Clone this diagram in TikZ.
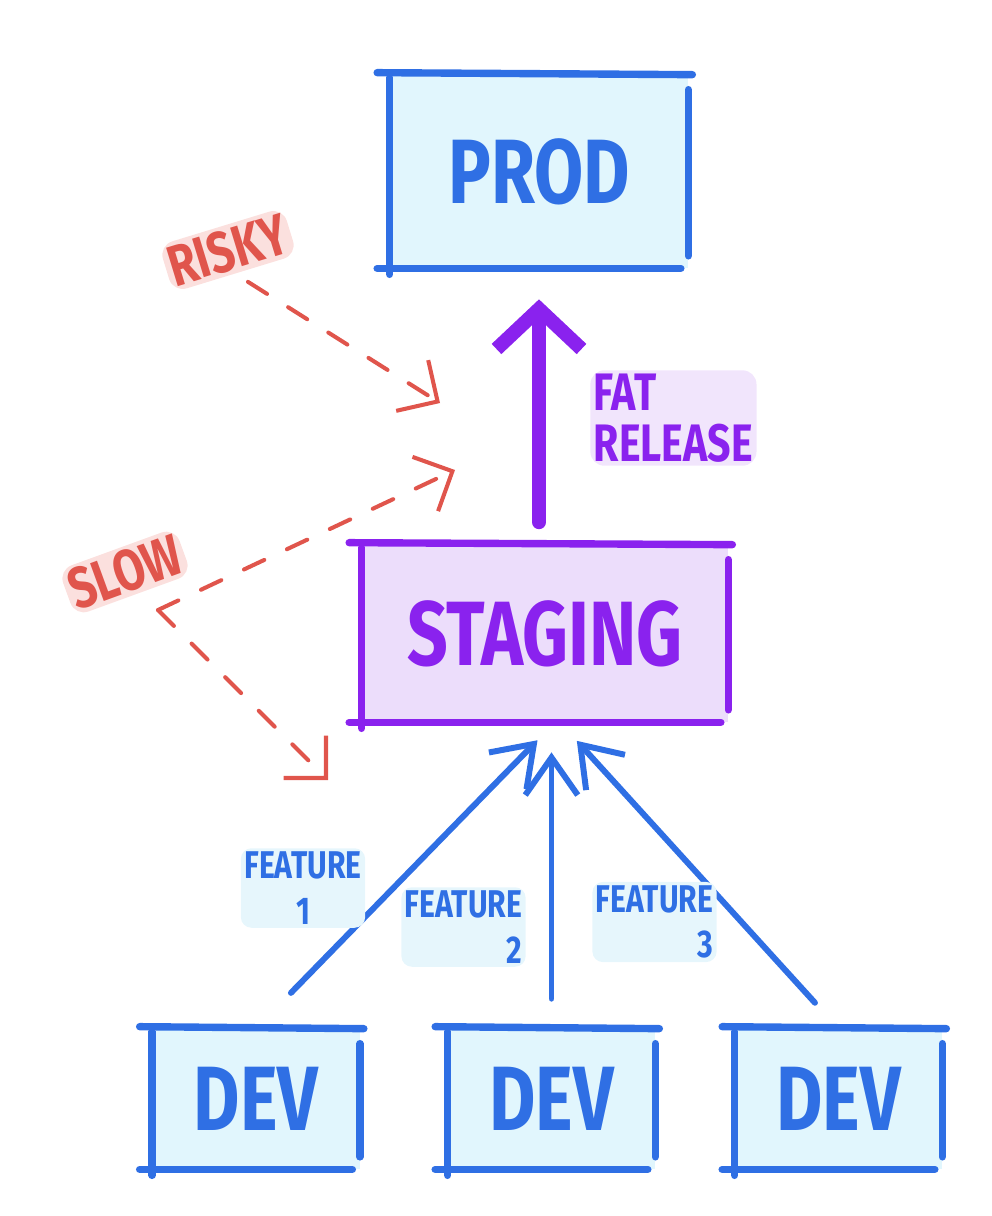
\documentclass[tikz,border=0pt]{standalone}
\usepackage{fontspec}
\usepackage{tikz}
\usetikzlibrary{arrows.meta}
\newfontfamily\handfont{Fira Sans}[FakeStretch=0.78]
\definecolor{devblue}{HTML}{2F6FE4}
\definecolor{devfill}{HTML}{E1F6FD}
\definecolor{stagepurple}{HTML}{8A22EE}
\definecolor{stagefill}{HTML}{ECDDFB}
\definecolor{riskred}{HTML}{E0554C}
\definecolor{riskhl}{HTML}{FBE0DE}
\definecolor{bluehl}{HTML}{E6F6FC}
\definecolor{purplehl}{HTML}{F1E5FC}

% hand drawn border round a box node
\newcommand{\sketchbox}[2]{%
  \draw[sketch, #2] ([shift={(-0.25,0.04)}]#1.north west) -- ([shift={(0.08,0)}]#1.north east);
  \draw[sketch, #2] ([shift={(0,-0.06)}]#1.north west) -- ([shift={(0,-0.12)}]#1.south west);
  \draw[sketch, #2] ([shift={(-0.25,0)}]#1.south west) -- ([shift={(-0.15,0)}]#1.south east);
  \draw[sketch, #2] ([shift={(0,-0.3)}]#1.north east) -- ([shift={(0,0.25)}]#1.south east);
}

\begin{document}
\begin{tikzpicture}[
    sketch/.style={line width=4.2pt, line cap=round},
    bigtext/.style={font=\handfont\bfseries\fontsize{52}{56}\selectfont},
    smalltext/.style={font=\handfont\bfseries\fontsize{22}{26}\selectfont, text=devblue, fill=bluehl, rounded corners=6pt, inner sep=2pt},
    redtext/.style={font=\handfont\bfseries\fontsize{33}{36}\selectfont, text=riskred, fill=riskhl, rounded corners=8pt, inner sep=2pt},
    devbox/.style={fill=devfill, minimum width=4.14cm, minimum height=2.8cm, inner sep=0pt, bigtext, text=devblue},
    featarrow/.style={devblue, line width=3.4pt, line cap=round, -{Straight Barb[length=0.75cm, width=1.05cm]}},
    redarrow/.style={riskred, line width=2.3pt, line cap=round, dash pattern=on 0.45cm off 0.5cm, -{Straight Barb[length=0.6cm, width=1.2cm]}}
]
    \useasboundingbox (0, 0) rectangle (19.84, -24.32);

    % prod box
    \node[fill=devfill, minimum width=5.96cm, minimum height=3.86cm, inner sep=0pt, bigtext, text=devblue] (prod) at (10.78, -3.43) {PROD};
    \sketchbox{prod}{devblue}

    % staging box
    \node[fill=stagefill, minimum width=7.32cm, minimum height=3.54cm, inner sep=0pt, bigtext, text=stagepurple] (staging) at (10.9, -12.67) {STAGING};
    \sketchbox{staging}{stagepurple}

    % dev boxes
    \node[devbox] (dev1) at (5.12, -21.98) {DEV};
    \node[devbox] (dev2) at (11.03, -21.98) {DEV};
    \node[devbox] (dev3) at (16.77, -21.98) {DEV};
    \sketchbox{dev1}{devblue}
    \sketchbox{dev2}{devblue}
    \sketchbox{dev3}{devblue}

    % fat release arrow
    \draw[stagepurple, line width=8pt, line cap=round, -{Straight Barb[length=0.8cm, width=1.7cm]}, shorten <=0.45cm, shorten >=0.62cm] (staging.north -| prod.south) -- (prod.south);
    % label
    \node[font=\handfont\bfseries\fontsize{30}{29}\selectfont, text=stagepurple, fill=purplehl, rounded corners=8pt, inner sep=2pt, align=left, anchor=west] (fat) at (11.8, -8.36) {FAT\\RELEASE};

    % feature arrows
    \draw[featarrow, shorten <=1.0cm, shorten >=0.5cm] (dev1.north) -- ([xshift=0.2cm]staging.south);
    \draw[featarrow, shorten <=0.6cm, shorten >=0.6cm] (dev2.north) -- (dev2.north |- staging.south);
    \draw[featarrow, shorten <=0.7cm, shorten >=0.5cm] (dev3.north) -- ([xshift=0.3cm]staging.south);
    % labels
    \node[smalltext, align=center] (feat1) at (6.06, -17.76) {FEATURE\\1};
    \node[smalltext, align=right, anchor=east] (feat2) at (10.52, -18.54) {FEATURE\\2};
    \node[smalltext, align=right, anchor=east] (feat3) at (14.34, -18.44) {FEATURE\\3};

    % risky
    \node[redtext, rotate=17] (risky) at (4.56, -5.0) {RISKY};
    \coordinate (riskytip) at (8.8, -8.06);
    \draw[redarrow, shorten <=0.3cm] (risky.south) -- (riskytip);

    % slow
    \node[redtext, rotate=20] (slow) at (2.5, -11.44) {SLOW};
    \coordinate (slowfork) at (3.16, -12.2);
    \coordinate (slowup) at (9.1, -9.4);
    \coordinate (slowdown) at (6.56, -15.6);
    \draw[redarrow] (slowfork) -- (slowup);
    \draw[redarrow] (slowfork) -- (slowdown);
\end{tikzpicture}
\end{document}
